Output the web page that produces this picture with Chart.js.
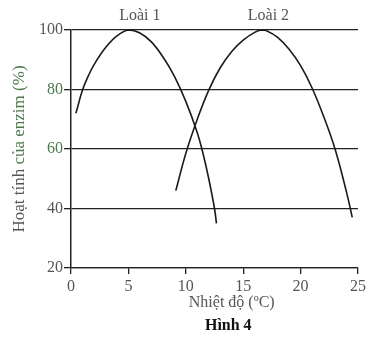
<!DOCTYPE html>
<html>
<head>
<meta charset="utf-8">
<script src="https://cdn.jsdelivr.net/npm/chart.js@4"></script>
<style>
    html, body { margin: 0; padding: 0; background: #fff; }
    #contenedor { width: 378px; height: 339px; }
</style>
</head>
<body>
<div id="contenedor"><canvas id="grafica_hinh4"></canvas></div>
<script>
// Loài 1
const nhietDo1 = [0.43, 1, 1.5, 2, 3, 4, 5, 6, 7, 8, 9, 10, 11, 11.5, 12, 12.5, 12.67];
const hoatTinh1 = [72, 79.8, 84.5, 88.3, 94, 98, 100, 99, 96, 91, 84.5, 76, 65.5, 58.5, 50, 40, 35];
// Loài 2
const nhietDo2 = [9.13, 10, 11, 12, 13, 14, 15, 16, 16.6, 17, 18, 19, 20, 21, 22, 23, 24, 24.5];
const hoatTinh2 = [46, 58.5, 70, 79.8, 87.3, 92.8, 96.6, 99.2, 100, 99.8, 97.5, 93.5, 88, 80.5, 71, 60, 45.5, 37];

const tenLoai = ['Loài 1', 'Loài 2'];
const tieuDeY = ['Hoạt tính ', 'của enzim (%)'];
const tieuDeX = 'Nhiệt độ (ºC)';
const tenHinh = 'Hình 4';

const FUENTE = "'Liberation Serif', 'Times New Roman', serif";
const GRIS = '#555';
const VERDE = '#4f7a4f';

// textos extra (etiquetas, títulos)
const textosPlugin = {
    id: 'textos',
    afterDraw(chart) {
        const ctx = chart.ctx;
        const area = chart.chartArea;
        const x = chart.scales.x;
        ctx.save();
        ctx.textBaseline = 'middle';
        ctx.textAlign = 'center';
        ctx.font = '16px ' + FUENTE;
        ctx.fillStyle = GRIS;
        ctx.fillText(tenLoai[0], x.getPixelForValue(6), area.top - 14);
        ctx.fillText(tenLoai[1], x.getPixelForValue(17.2), area.top - 14);

        // titulo eje x y nombre de figura
        ctx.fillText(tieuDeX, x.getPixelForValue(14), area.bottom + 35);
        ctx.font = 'bold 16px ' + FUENTE;
        ctx.fillStyle = '#111';
        ctx.fillText(tenHinh, x.getPixelForValue(13.7), area.bottom + 58);

        // titulo eje y en dos colores
        ctx.font = '17px ' + FUENTE;
        const w1 = ctx.measureText(tieuDeY[0]).width;
        const w2 = ctx.measureText(tieuDeY[1]).width;
        ctx.translate(20, (area.top + area.bottom) / 2);
        ctx.rotate(-Math.PI / 2);
        ctx.textAlign = 'left';
        ctx.fillStyle = GRIS;
        ctx.fillText(tieuDeY[0], -(w1 + w2) / 2, 0);
        ctx.fillStyle = VERDE;
        ctx.fillText(tieuDeY[1], -(w1 + w2) / 2 + w1, 0);
        ctx.restore();
    }
};

function inicializarGrafica() {
    const ctx = document.getElementById('grafica_hinh4').getContext('2d');
    new Chart(ctx, {
        type: 'line',
        data: {
            datasets: [
                {
                    label: tenLoai[0],
                    data: nhietDo1.map((t, i) => ({ x: t, y: hoatTinh1[i] })),
                    borderColor: '#1a1a1a',
                    borderWidth: 1.6,
                    pointRadius: 0,
                    fill: false,
                    tension: 0.4
                },
                {
                    label: tenLoai[1],
                    data: nhietDo2.map((t, i) => ({ x: t, y: hoatTinh2[i] })),
                    borderColor: '#1a1a1a',
                    borderWidth: 1.6,
                    pointRadius: 0,
                    fill: false,
                    tension: 0.4
                }
            ]
        },
        options: {
            responsive: true,
            maintainAspectRatio: false,
            animation: false,
            layout: { padding: { top: 30, right: 20, left: 0, bottom: 0 } },
            plugins: {
                legend: { display: false },
                tooltip: { enabled: false },
                title: { display: false }
            },
            scales: {
                x: {
                    type: 'linear',
                    min: 0,
                    max: 25,
                    ticks: {
                        stepSize: 5,
                        padding: 3,
                        color: GRIS,
                        font: { family: FUENTE, size: 16 }
                    },
                    grid: {
                        drawOnChartArea: false,
                        drawTicks: true,
                        tickLength: 6,
                        color: '#222',
                        lineWidth: 1.3
                    },
                    border: { color: '#222', width: 1.3 },
                    afterFit: function (scale) { scale.height = 71; }
                },
                y: {
                    min: 20,
                    max: 100,
                    ticks: {
                        stepSize: 20,
                        padding: 1,
                        color: c => (c.tick && (c.tick.value === 80 || c.tick.value === 60)) ? VERDE : GRIS,
                        font: { family: FUENTE, size: 16 }
                    },
                    grid: {
                        tickLength: 7,
                        color: '#222',
                        lineWidth: 1.3
                    },
                    border: { color: '#222', width: 1.5 },
                    afterFit: function (scale) { scale.width = 71; }
                }
            }
        },
        plugins: [textosPlugin]
    });
}

inicializarGrafica();
</script>
</body>
</html>
